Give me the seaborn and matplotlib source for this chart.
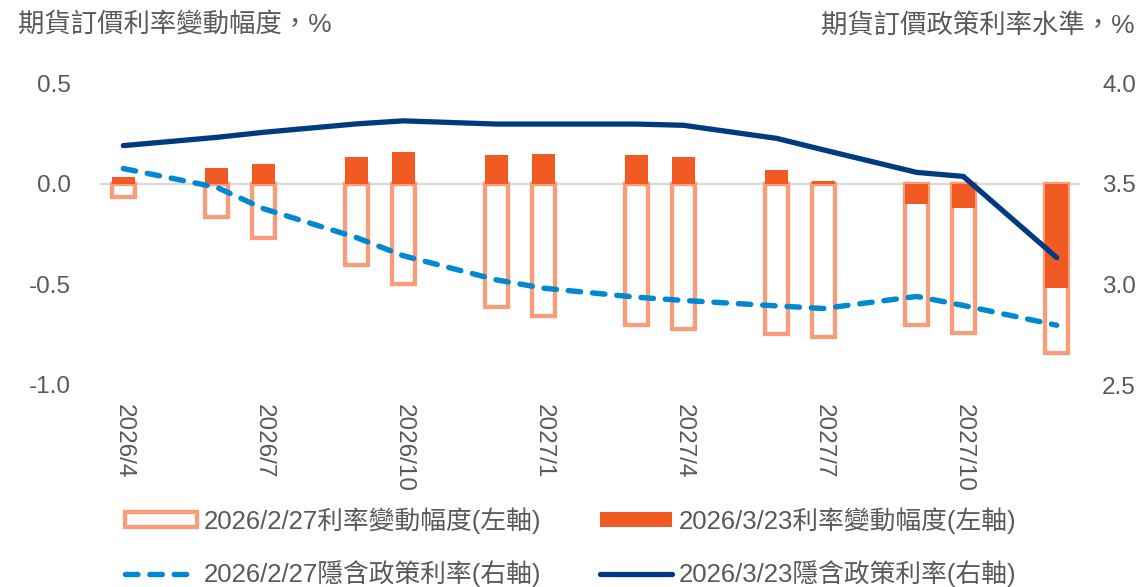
import matplotlib
matplotlib.use("Agg")
import matplotlib.pyplot as plt
import numpy as np
import pandas as pd
import seaborn as sns

# Monthly axis and FOMC meeting months
months = ["2026/4", "2026/5", "2026/6", "2026/7", "2026/8", "2026/9", "2026/10",
          "2026/11", "2026/12", "2027/1", "2027/2", "2027/3", "2027/4", "2027/5",
          "2027/6", "2027/7", "2027/8", "2027/9", "2027/10", "2027/11", "2027/12"]
meetings = ["2026/4", "2026/6", "2026/7", "2026/9", "2026/10", "2026/12", "2027/1",
            "2027/3", "2027/4", "2027/6", "2027/7", "2027/9", "2027/10", "2027/12"]
tick_labels = ["2026/4", "2026/7", "2026/10", "2027/1", "2027/4", "2027/7", "2027/10"]

# Cumulative rate change priced in (left axis, %)
change_0227 = [-0.065, -0.166, -0.27, -0.405, -0.50, -0.613, -0.655,
               -0.703, -0.72, -0.746, -0.761, -0.70, -0.743, -0.843]
change_0323 = [0.031, 0.078, 0.098, 0.133, 0.156, 0.143, 0.146,
               0.144, 0.134, 0.068, 0.013, -0.10, -0.12, -0.516]

# Implied policy rate (right axis, %)
implied_0227 = [3.575, 3.482, 3.376, 3.232, 3.142, 3.022, 2.981,
                2.936, 2.92, 2.893, 2.88, 2.94, 2.895, 2.797]
implied_0323 = [3.689, 3.73, 3.755, 3.797, 3.812, 3.796, 3.796,
                3.796, 3.79, 3.725, 3.668, 3.556, 3.536, 3.133]

lbl_bar_0227 = "2026/2/27利率變動幅度(左軸)"
lbl_bar_0323 = "2026/3/23利率變動幅度(左軸)"
lbl_line_0227 = "2026/2/27隱含政策利率(右軸)"
lbl_line_0323 = "2026/3/23隱含政策利率(右軸)"

SALMON = "#F89C7A"
ORANGE = "#F15A22"
BLUE = "#0088D1"
NAVY = "#003A80"
GREY = "#595959"

sns.set_style("white")
plt.rcParams["font.family"] = ["Liberation Sans", "Noto Sans CJK TC"]
plt.rcParams["text.color"] = GREY
plt.rcParams["axes.unicode_minus"] = False

df = pd.DataFrame({
    "month": meetings,
    "chg_0227": change_0227,
    "chg_0323": change_0323,
    "pos": [months.index(m) for m in meetings],
    "rate_0227": implied_0227,
    "rate_0323": implied_0323,
})

fig = plt.figure(figsize=(11.42, 5.87), dpi=100)
ax = fig.add_axes([100 / 1142, 1 - 385 / 587, 980 / 1142, 302 / 587])

# zero reference line beneath the bars
ax.axhline(0, color="#D9D9D9", lw=1.6, zorder=0.5)

# Hollow bars first, solid bars on top
sns.barplot(data=df, x="month", y="chg_0227", order=months, ax=ax, width=0.5,
            color=SALMON, saturation=1, label=lbl_bar_0227, errorbar=None,
            legend=False)
hollow = ax.containers[-1]
for p in hollow:
    p.set_facecolor("white")
    p.set_edgecolor(SALMON)
    p.set_linewidth(3.1)
    p.set_zorder(2)

sns.barplot(data=df, x="month", y="chg_0323", order=months, ax=ax, width=0.5,
            color=ORANGE, saturation=1, label=lbl_bar_0323, errorbar=None,
            legend=False)
solid = ax.containers[-1]
for p in solid:
    p.set_facecolor(ORANGE)
    p.set_edgecolor("none")
    p.set_linewidth(0)
    p.set_zorder(3)

if ax.get_legend() is not None:
    ax.get_legend().remove()

ax.set_xlim(-0.5, len(months) - 0.5)
ax.set_ylim(-1.0, 0.5)
ax.set_yticks([-1.0, -0.5, 0.0, 0.5])
ax.set_yticklabels(["-1.0", "-0.5", "0.0", "0.5"])
ax.set_xticks([months.index(t) for t in tick_labels])
ax.set_xticklabels(tick_labels, rotation=-90, ha="center", va="top")
ax.tick_params(axis="x", length=0, pad=14, labelsize=17.5, labelcolor=GREY)
ax.tick_params(axis="y", length=0, pad=21, labelsize=17.5, labelcolor=GREY)
ax.set_xlabel("")
ax.set_ylabel("")
for s in ax.spines.values():
    s.set_visible(False)

ax2 = ax.twinx()
sns.lineplot(data=df, x="pos", y="rate_0227", ax=ax2, color=BLUE, lw=3.9,
             label=lbl_line_0227, legend=False, errorbar=None)
sns.lineplot(data=df, x="pos", y="rate_0323", ax=ax2, color=NAVY, lw=3.8,
             label=lbl_line_0323, legend=False, errorbar=None)
l_dash, l_solid = ax2.get_lines()[-2:]
l_dash.set_linestyle((0, (2.3, 2.2)))
l_dash.set_dash_capstyle("round")
l_solid.set_solid_capstyle("round")
l_solid.set_solid_joinstyle("round")
if ax2.get_legend() is not None:
    ax2.get_legend().remove()

ax2.set_xlim(-0.5, len(months) - 0.5)
ax2.set_ylim(2.5, 4.0)
ax2.set_yticks([2.5, 3.0, 3.5, 4.0])
ax2.set_yticklabels(["2.5", "3.0", "3.5", "4.0"])
ax2.tick_params(axis="y", length=0, pad=16, labelsize=17.5, labelcolor=GREY)
ax2.set_ylabel("")
ax2.set_xlabel("")
for s in ax2.spines.values():
    s.set_visible(False)

fig.text(18 / 1142, 1 - 25 / 587, "期貨訂價利率變動幅度，%", ha="left", va="center",
         fontsize=19, color=GREY)
fig.text(1135 / 1142, 1 - 25 / 587, "期貨訂價政策利率水準，%", ha="right", va="center",
         fontsize=19, color=GREY)

# column-major order: left column hollow/dashed, right column solid bar/solid line
handles = [hollow, l_dash, solid, l_solid]
labels = [lbl_bar_0227, lbl_line_0227, lbl_bar_0323, lbl_line_0323]
leg = fig.legend(handles, labels, ncol=2, loc="upper left",
                 bbox_to_anchor=(125 / 1142, 1 - 507 / 587), frameon=False,
                 fontsize=18.5, handlelength=2.8, handleheight=0.5,
                 handletextpad=0.25, columnspacing=2.3, labelspacing=1.05,
                 borderpad=0, borderaxespad=0)
for t in leg.get_texts():
    t.set_color(GREY)

fig.savefig("out.png", dpi=100)
